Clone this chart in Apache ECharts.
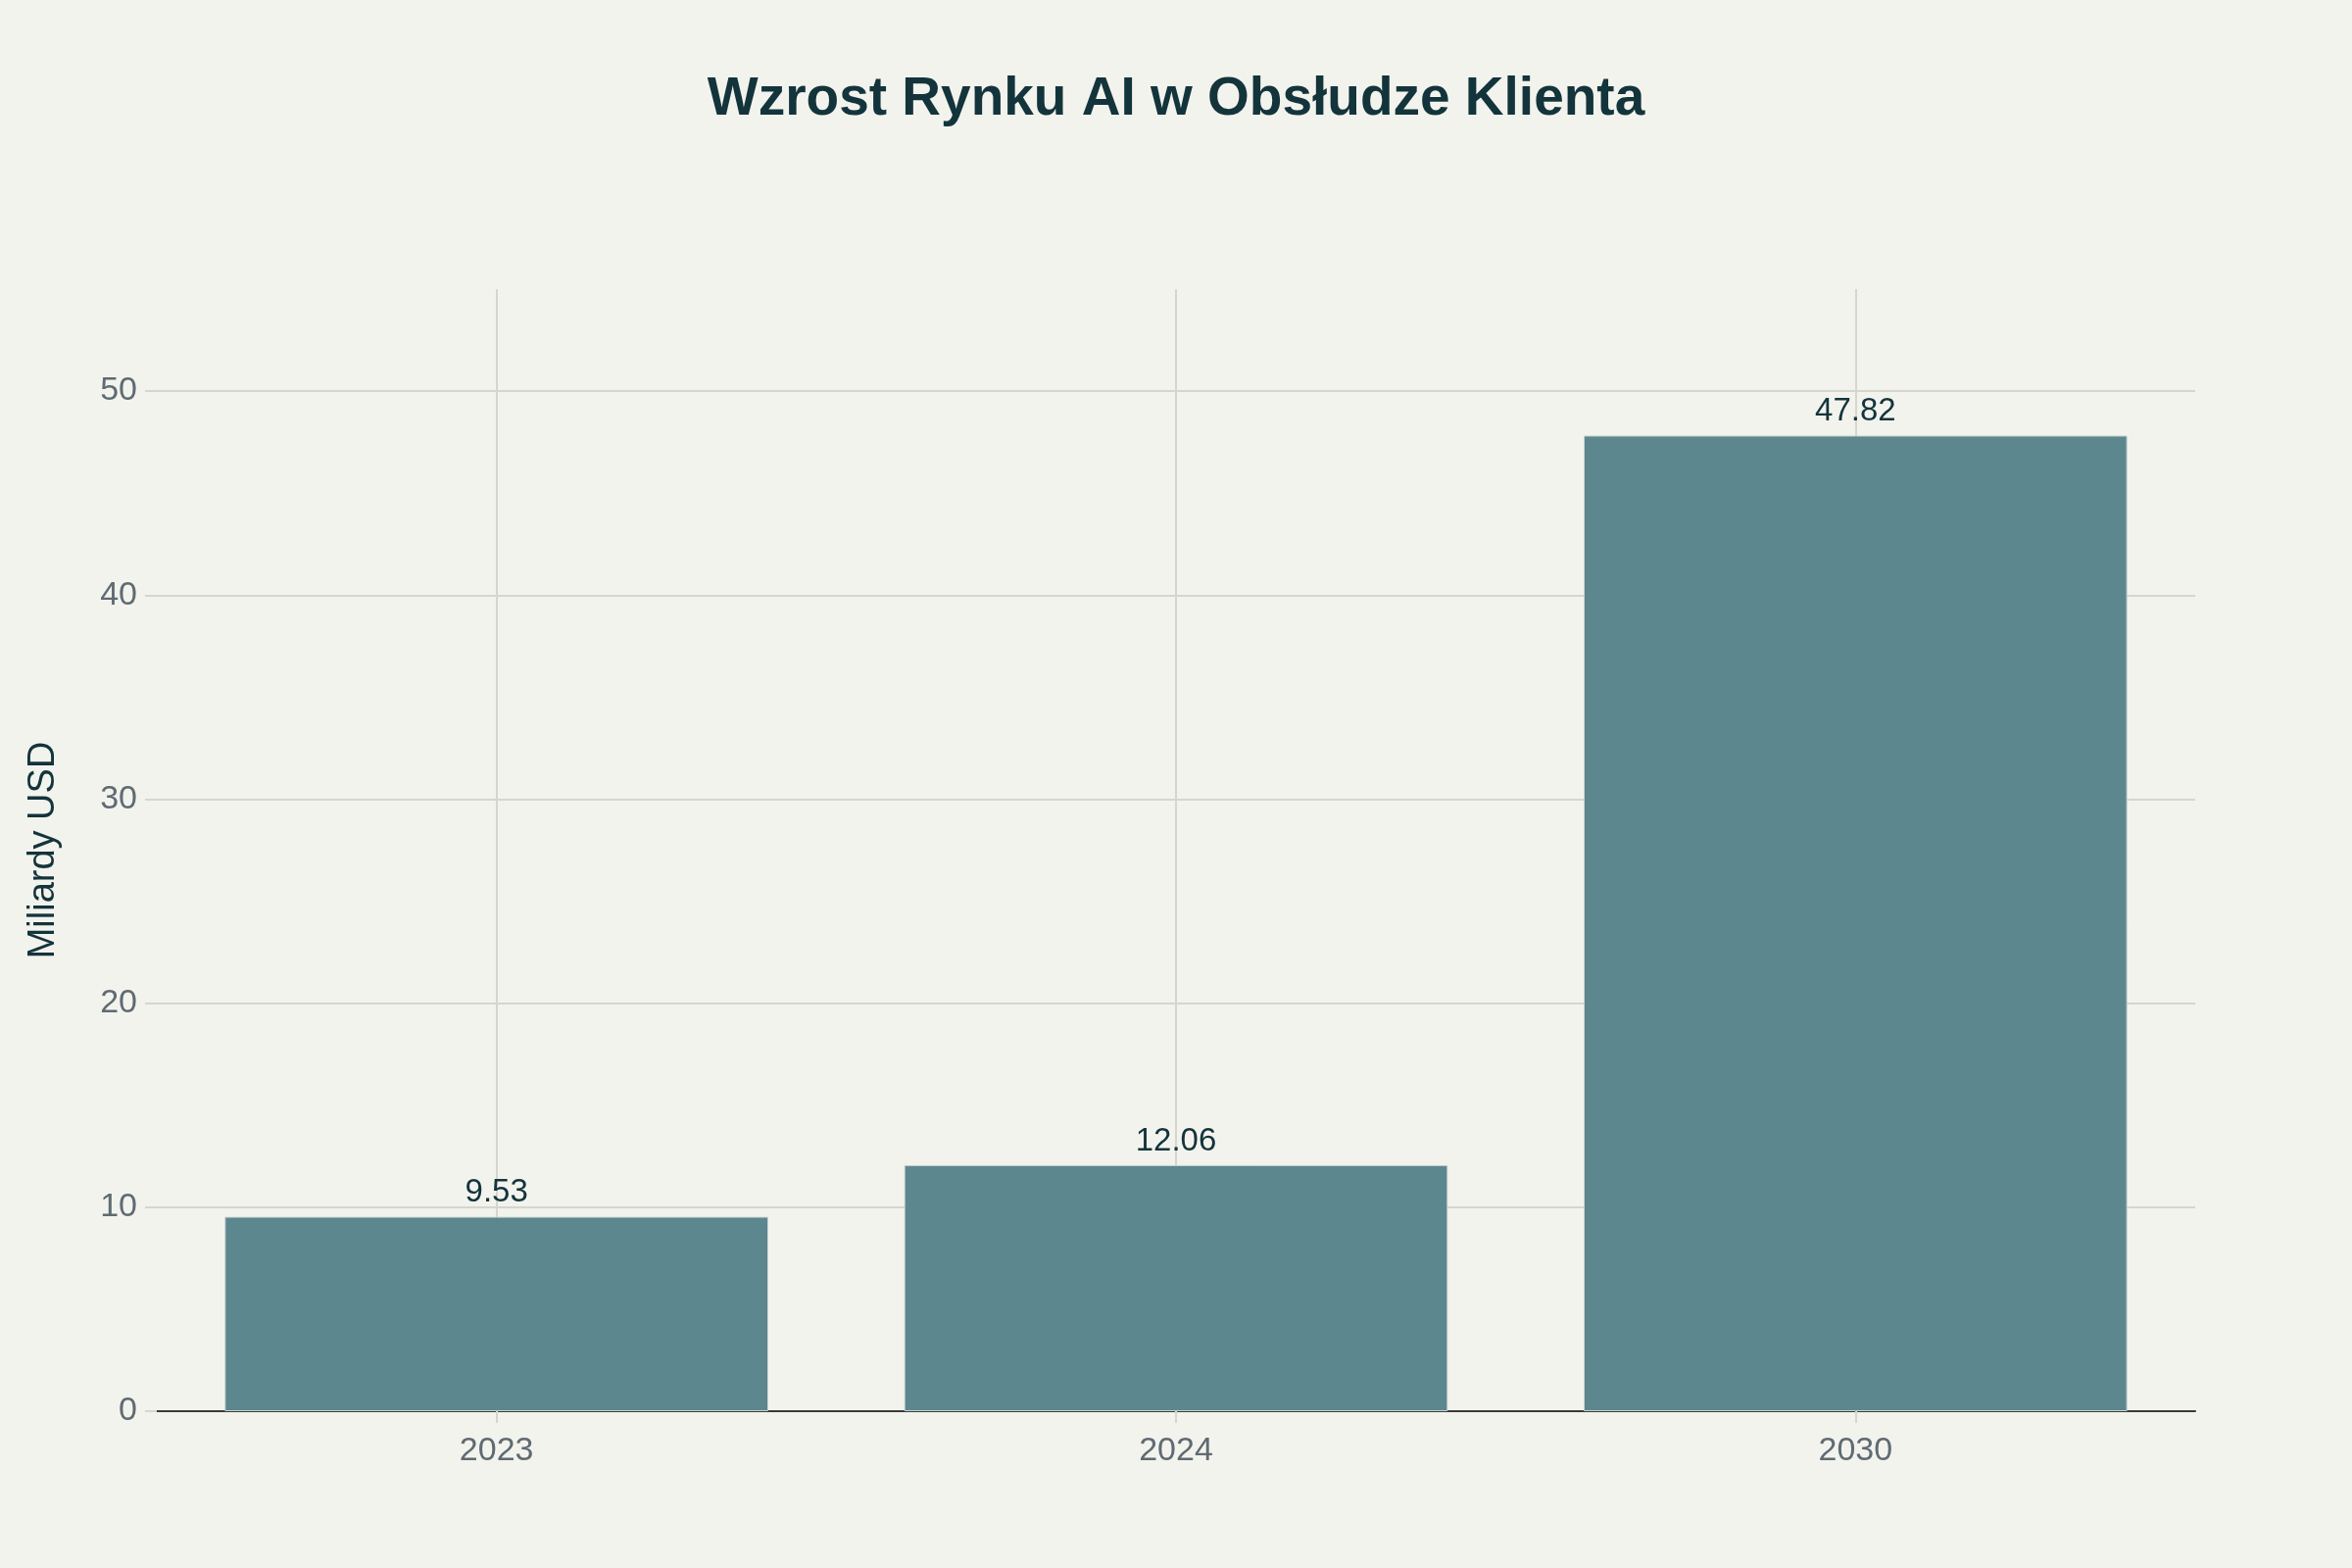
<!DOCTYPE html>
<html>
<head>
<meta charset="utf-8">
<script src="https://cdn.jsdelivr.net/npm/echarts@6/dist/echarts.min.js"></script>
<style>
  html, body { margin: 0; padding: 0; background: #F3F3EE; }
  #chart { width: 2400px; height: 1600px; }
</style>
</head>
<body>
<div id="chart"></div>
<script>
// dane wykresu
var years = ['2023', '2024', '2030'];
var marketValues = [9.53, 12.06, 47.82];
var yTicks = [0, 10, 20, 30, 40, 50];

var fontFamily = '"Liberation Sans", Arial, sans-serif';
var gridColor = '#D6D6D0';

// ostatnia linia (max = 55) ma byc niewidoczna
var splitColors = yTicks.map(function () { return gridColor; });
splitColors.push('rgba(0,0,0,0)');

var chart = echarts.init(document.getElementById('chart'));

chart.setOption({
    backgroundColor: '#F3F3EE',
    textStyle: { fontFamily: fontFamily },
    title: {
        text: 'Wzrost Rynku AI w Obsłudze Klienta',
        left: 'center',
        top: 69,
        textStyle: {
            fontFamily: fontFamily,
            fontSize: 55,
            fontWeight: 'bold',
            color: '#13343B'
        }
    },
    grid: { left: 160, right: 160, top: 295, bottom: 160 },
    xAxis: {
        type: 'category',
        data: years,
        axisLine: { show: true, lineStyle: { color: '#3A3A3A', width: 2 } },
        axisTick: { show: true, alignWithLabel: true, length: 12, lineStyle: { color: gridColor, width: 2 } },
        splitLine: { show: true, alignWithLabel: true, lineStyle: { color: gridColor, width: 2 } },
        axisLabel: { color: '#5F6B72', fontSize: 34, margin: 24 }
    },
    yAxis: {
        type: 'value',
        min: 0,
        max: 55,
        interval: 10,
        name: 'Miliardy USD',
        nameLocation: 'middle',
        nameGap: 96,
        nameTextStyle: { color: '#13343B', fontSize: 38 },
        axisLine: { show: false },
        axisTick: { show: true, length: 12, lineStyle: { color: gridColor, width: 2 } },
        splitLine: { show: true, lineStyle: { color: splitColors, width: 2 } },
        axisLabel: {
            color: '#5F6B72',
            fontSize: 34,
            margin: 20,
            showMaxLabel: false,
            formatter: function (v) { return yTicks.indexOf(v) >= 0 ? String(v) : ''; }
        }
    },
    series: [{
        type: 'bar',
        data: marketValues,
        barCategoryGap: '20%',
        itemStyle: { color: '#5D878F', borderColor: '#C9D2D1', borderWidth: 1 },
        label: {
            show: true,
            position: 'top',
            distance: 8,
            color: '#13343B',
            fontSize: 33,
            formatter: function (p) { return p.value.toFixed(2); }
        },
        z: 3
    }]
});
</script>
</body>
</html>
